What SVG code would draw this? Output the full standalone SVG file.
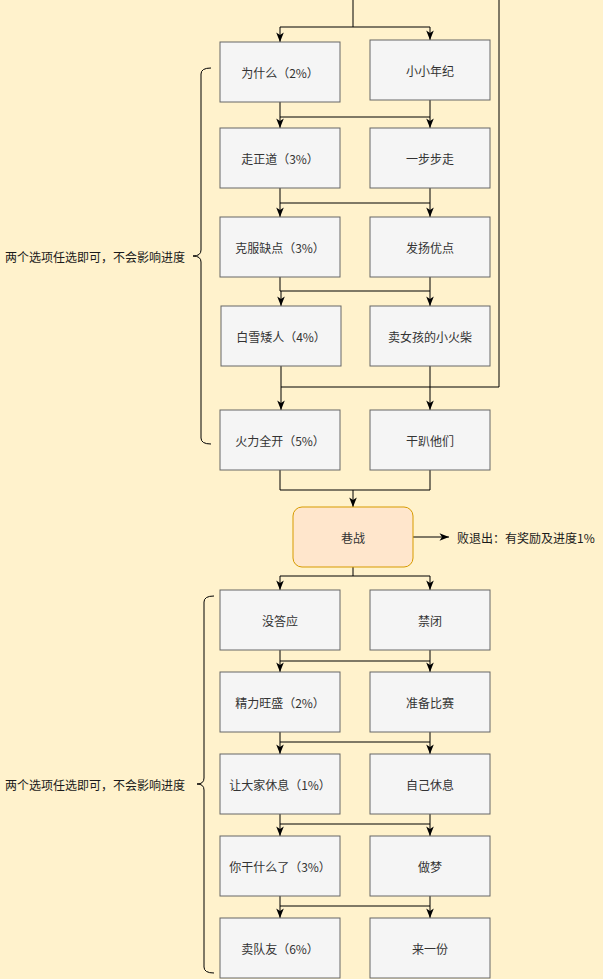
<svg xmlns="http://www.w3.org/2000/svg" width="603" height="979" viewBox="0 0 603 979">
<style>
.box{fill:#f5f5f5;stroke:#666666;stroke-width:1}
.main{fill:#ffe6cc;stroke:#d79b00;stroke-width:1}
.t{font-family:"Noto Sans CJK SC","Noto Sans",sans-serif;font-size:12px;fill:#333333;text-anchor:middle;dominant-baseline:central}
.side{font-family:"Noto Sans CJK SC","Noto Sans",sans-serif;font-size:12px;fill:#1a1a1a;dominant-baseline:central}
.ln{fill:none;stroke:#000000;stroke-width:1}
.ar{fill:none;stroke:#000000;stroke-width:1;marker-end:url(#arr)}
</style>
<defs>
<marker id="arr" markerUnits="userSpaceOnUse" markerWidth="12" markerHeight="12" viewBox="0 0 12 12" refX="11" refY="6" orient="auto">
<path d="M1.5,2.2 L11,6 L1.5,9.8 L4,6 z" fill="#000000"/>
</marker>
</defs>
<rect x="0" y="0" width="603" height="979" fill="#fff2cc"/>

<g id="connectors">
<path class="ln" d="M353,0 V27 H430"/>
<path class="ar" d="M280,27 V42"/>
<path class="ln" d="M353,27 H280"/>
<path class="ar" d="M430,27 V40"/>
<path class="ln" d="M499,0 V387 H430"/>

<path class="ln" d="M280,102 V117 H430"/>
<path class="ar" d="M280,117 V128"/>
<path class="ar" d="M430,100 V128"/>

<path class="ln" d="M280,188 V203 H430"/>
<path class="ar" d="M280,203 V217"/>
<path class="ar" d="M430,188 V217"/>

<path class="ln" d="M280,277 V291 H430"/>
<path class="ar" d="M281,291 V306"/>
<path class="ar" d="M430,277 V306"/>

<path class="ln" d="M281,366 V387 H430"/>
<path class="ar" d="M281,387 V410"/>
<path class="ar" d="M430,366 V410"/>

<path class="ln" d="M280,470 V490 H430 V470"/>
<path class="ar" d="M353,490 V507"/>

<path class="ar" d="M413,537 H449"/>

<path class="ln" d="M353,567 V576 H280"/>
<path class="ln" d="M353,576 H430"/>
<path class="ar" d="M280,576 V590"/>
<path class="ar" d="M430,576 V590"/>

<path class="ln" d="M280,650 V661 H430"/>
<path class="ar" d="M280,661 V672"/>
<path class="ar" d="M430,650 V672"/>

<path class="ln" d="M280,732 V742 H430"/>
<path class="ar" d="M280,742 V754"/>
<path class="ar" d="M430,732 V754"/>

<path class="ln" d="M280,814 V824 H430"/>
<path class="ar" d="M280,824 V836"/>
<path class="ar" d="M430,814 V836"/>

<path class="ln" d="M280,896 V906 H430"/>
<path class="ar" d="M280,906 V918"/>
<path class="ar" d="M430,896 V918"/>
</g>

<g id="brace1">
<path class="ln" d="M211,68 Q201,68 201,74 L201,250 Q201,256 193,256 Q201,256 201,262 L201,438 Q201,444 211,444"/>
<text class="side" x="5" y="256">两个选项任选即可，不会影响进度</text>
</g>
<g id="brace2">
<path class="ln" d="M214,596 Q204,596 204,602 L204,778 Q204,784 197,784 Q204,784 204,790 L204,967 Q204,973 214,973"/>
<text class="side" x="5" y="784">两个选项任选即可，不会影响进度</text>
</g>

<g id="n1"><rect class="box" x="220" y="42" width="120" height="60"/><text class="t" x="280" y="72">为什么（2%）</text></g>
<g id="n2"><rect class="box" x="370" y="40" width="120" height="60"/><text class="t" x="430" y="70">小小年纪</text></g>
<g id="n3"><rect class="box" x="220" y="128" width="120" height="60"/><text class="t" x="280" y="158">走正道（3%）</text></g>
<g id="n4"><rect class="box" x="370" y="128" width="120" height="60"/><text class="t" x="430" y="158">一步步走</text></g>
<g id="n5"><rect class="box" x="220" y="217" width="120" height="60"/><text class="t" x="280" y="247">克服缺点（3%）</text></g>
<g id="n6"><rect class="box" x="370" y="217" width="120" height="60"/><text class="t" x="430" y="247">发扬优点</text></g>
<g id="n7"><rect class="box" x="221" y="306" width="120" height="60"/><text class="t" x="281" y="336">白雪矮人（4%）</text></g>
<g id="n8"><rect class="box" x="370" y="306" width="120" height="60"/><text class="t" x="430" y="336">卖女孩的小火柴</text></g>
<g id="n9"><rect class="box" x="220" y="410" width="120" height="60"/><text class="t" x="280" y="440">火力全开（5%）</text></g>
<g id="n10"><rect class="box" x="370" y="410" width="120" height="60"/><text class="t" x="430" y="440">干趴他们</text></g>

<g id="battle"><rect class="main" x="293" y="507" width="120" height="60" rx="9" ry="9"/><text class="t" x="353" y="537">巷战</text></g>
<g id="exit"><text class="side" x="457" y="537">败退出：有奖励及进度1%</text></g>

<g id="m1"><rect class="box" x="220" y="590" width="120" height="60"/><text class="t" x="280" y="620">没答应</text></g>
<g id="m2"><rect class="box" x="370" y="590" width="120" height="60"/><text class="t" x="430" y="620">禁闭</text></g>
<g id="m3"><rect class="box" x="220" y="672" width="120" height="60"/><text class="t" x="280" y="702">精力旺盛（2%）</text></g>
<g id="m4"><rect class="box" x="370" y="672" width="120" height="60"/><text class="t" x="430" y="702">准备比赛</text></g>
<g id="m5"><rect class="box" x="220" y="754" width="120" height="60"/><text class="t" x="280" y="784">让大家休息（1%）</text></g>
<g id="m6"><rect class="box" x="370" y="754" width="120" height="60"/><text class="t" x="430" y="784">自己休息</text></g>
<g id="m7"><rect class="box" x="220" y="836" width="120" height="60"/><text class="t" x="280" y="866">你干什么了（3%）</text></g>
<g id="m8"><rect class="box" x="370" y="836" width="120" height="60"/><text class="t" x="430" y="866">做梦</text></g>
<g id="m9"><rect class="box" x="220" y="918" width="120" height="60"/><text class="t" x="280" y="948">卖队友（6%）</text></g>
<g id="m10"><rect class="box" x="370" y="918" width="120" height="60"/><text class="t" x="430" y="948">来一份</text></g>
</svg>
